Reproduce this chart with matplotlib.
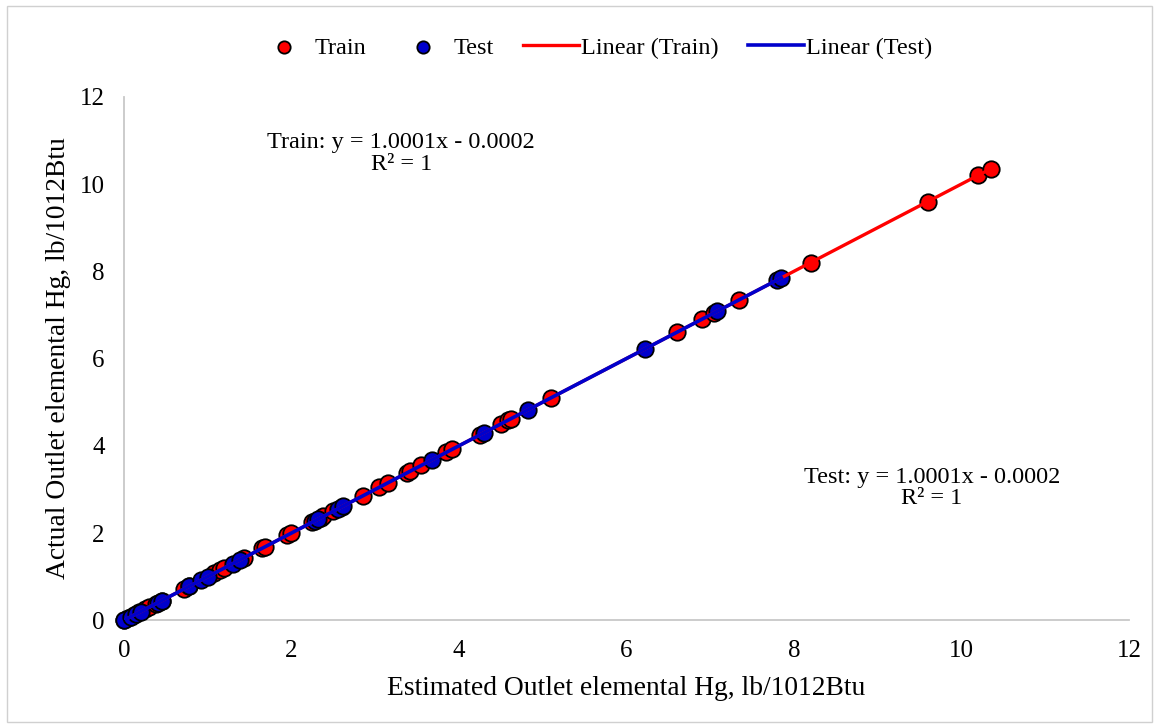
import numpy as np
import matplotlib
matplotlib.use("Agg")
import matplotlib.pyplot as plt
from matplotlib.patches import Rectangle

plt.rcParams['font.family'] = ['Liberation Serif', 'DejaVu Serif']

# estimated / actual values
train_est = [0.0, 0.05, 0.12, 0.18, 0.25, 0.3, 0.38, 0.45, 0.72, 0.78, 1.08, 1.15, 1.2,
             1.43, 1.65, 1.68, 1.95, 2.0, 2.25, 2.35, 2.38, 2.5, 2.6, 2.85, 3.05, 3.15,
             3.38, 3.42, 3.55, 3.85, 3.92, 4.25, 4.5, 4.58, 4.62, 5.1, 6.6, 6.9, 7.05,
             7.35, 8.2, 9.6, 10.2, 10.35]
train_act = [0.0, 0.05, 0.12, 0.18, 0.25, 0.3, 0.38, 0.45, 0.72, 0.78, 1.08, 1.15, 1.2,
             1.43, 1.65, 1.68, 1.95, 2.0, 2.25, 2.35, 2.38, 2.5, 2.6, 2.85, 3.05, 3.15,
             3.38, 3.42, 3.55, 3.85, 3.92, 4.25, 4.5, 4.58, 4.62, 5.1, 6.6, 6.9, 7.05,
             7.35, 8.2, 9.6, 10.2, 10.35]
test_est = [0.0, 0.08, 0.14, 0.2, 0.4, 0.45, 0.78, 0.92, 1.0, 1.3, 1.38, 2.28, 2.32,
            2.55, 2.62, 3.68, 4.3, 4.82, 6.22, 7.08, 7.8, 7.85]
test_act = [0.0, 0.08, 0.14, 0.2, 0.4, 0.45, 0.78, 0.92, 1.0, 1.3, 1.38, 2.28, 2.32,
            2.55, 2.62, 3.68, 4.3, 4.82, 6.22, 7.08, 7.8, 7.85]

fig = plt.figure(figsize=(11.59, 7.28), dpi=100)
ax = fig.add_axes([0.107, 0.148, 0.867, 0.719])

# chart border
fig.patches.append(Rectangle((0.006, 0.008), 0.988, 0.984, transform=fig.transFigure,
                             fill=False, edgecolor='#d0d0d0', linewidth=1))

ax.scatter(train_est, train_act, s=140, c='#ff0000', edgecolors='black', linewidths=1.3,
           zorder=3, label='Train', clip_on=False)
ax.scatter(test_est, test_act, s=140, c='#0000cc', edgecolors='black', linewidths=1.3,
           zorder=4, label='Test', clip_on=False)

# trend lines
p_tr = np.polyfit(train_est, train_act, 1)
xt = np.array([min(train_est), max(train_est)])
ax.plot(xt, np.polyval(p_tr, xt), color='#ff0000', lw=2.4, zorder=5, label='Linear (Train)')
p_te = np.polyfit(test_est, test_act, 1)
xs = np.array([min(test_est), max(test_est)])
ax.plot(xs, np.polyval(p_te, xs), color='#0000cc', lw=2.6, zorder=6, label='Linear (Test)')

ax.text(3.31, 10.7, 'Train: y = 1.0001x - 0.0002\nR² = 1', ha='center', va='center',
        fontsize=17.5, linespacing=1.05)
ax.text(9.65, 3.03, 'Test: y = 1.0001x - 0.0002\nR² = 1', ha='center', va='center',
        fontsize=17.5, linespacing=1.05)

ax.set_xlim(0, 12)
ax.set_ylim(0, 12)
ax.set_xticks(range(0, 13, 2))
ax.set_yticks(range(0, 13, 2))
ax.tick_params(axis='both', length=0, labelsize=18, pad=14)
for s in ['top', 'right']:
    ax.spines[s].set_visible(False)
for s in ['left', 'bottom']:
    ax.spines[s].set_color('#c8c8c8')
    ax.spines[s].set_linewidth(1.3)

ax.set_xlabel('Estimated Outlet elemental Hg, lb/1012Btu', fontsize=19.8, labelpad=10)
ax.set_ylabel('Actual Outlet elemental Hg, lb/1012Btu', fontsize=19.8, labelpad=6)

ax.legend(loc='center', bbox_to_anchor=(0.468, 1.094), ncol=4, frameon=False, fontsize=17.5,
          handlelength=2.3, columnspacing=1.2, handletextpad=0.1, markerscale=0.75)

fig.savefig('out.png', dpi=100)
